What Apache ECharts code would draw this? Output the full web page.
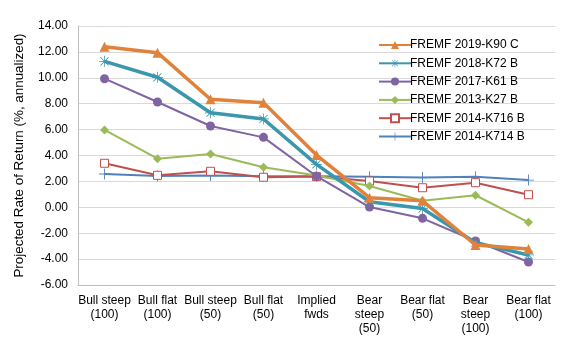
<!DOCTYPE html>
<html>
<head>
<meta charset="utf-8">
<script src="https://cdn.jsdelivr.net/npm/echarts@6/dist/echarts.min.js"></script>
<style>
  html, body { margin: 0; padding: 0; background: #fff; }
  #chart { width: 563px; height: 354px; }
</style>
</head>
<body>
<div id="chart"></div>
<script>
const categories = ['Bull steep\n(100)', 'Bull flat\n(100)', 'Bull steep\n(50)', 'Bull flat\n(50)', 'Implied\nfwds', 'Bear\nsteep\n(50)', 'Bear flat\n(50)', 'Bear\nsteep\n(100)', 'Bear flat\n(100)']
const k90 = [12.40, 11.94, 8.34, 8.08, 4.03, 0.74, 0.50, -2.91, -3.22]
const k72 = [11.27, 10.04, 7.30, 6.82, 3.32, 0.43, -0.10, -2.73, -3.68]
const k61 = [9.93, 8.13, 6.28, 5.40, 2.40, 0.02, -0.85, -2.60, -4.22]
const k27 = [5.97, 3.75, 4.12, 3.09, 2.45, 1.64, 0.51, 0.93, -1.16]
const k716 = [3.40, 2.47, 2.78, 2.32, 2.37, 2.03, 1.51, 1.90, 0.97]
const k714 = [2.57, 2.42, 2.45, 2.40, 2.40, 2.36, 2.30, 2.35, 2.10]

const starPath = 'path://M9.3,0H10.7V8.3L16.9,2.1L17.9,3.1L11.7,9.3H20V10.7H11.7L17.9,16.9L16.9,17.9L10.7,11.7V20H9.3V11.7L3.1,17.9L2.1,16.9L8.3,10.7H0V9.3H8.3L2.1,3.1L3.1,2.1L9.3,8.3Z'
const plusPath = 'path://M9.2,0H10.8V9.2H20V10.8H10.8V20H9.2V10.8H0V9.2H9.2Z'

const chart = echarts.init(document.getElementById('chart'))

function line(name, data, color, width, symbol, size, extra) {
  return Object.assign({
    name, type: 'line', data,
    symbol, symbolSize: size,
    lineStyle: { color, width },
    itemStyle: { color, borderWidth: 0 },
    emphasis: { disabled: true },
    animation: false
  }, extra || {})
}

chart.setOption({
  textStyle: { fontFamily: 'Liberation Sans, Arial, sans-serif' },
  grid: { left: 78, right: 8, top: 26, bottom: 69 },
  legend: {
    orient: 'vertical',
    left: 373, top: 34,
    itemWidth: 32, itemHeight: 10, itemGap: 6.3,
    textStyle: { fontSize: 12, color: '#000', padding: [0, 0, 0, -6] },
    data: ['FREMF 2019-K90 C', 'FREMF 2018-K72 B', 'FREMF 2017-K61 B', 'FREMF 2013-K27 B', 'FREMF 2014-K716 B', 'FREMF 2014-K714 B']
  },
  xAxis: {
    type: 'category',
    data: categories,
    boundaryGap: true,
    axisLine: { onZero: false, lineStyle: { color: '#BFBFBF' } },
    axisTick: { show: false },
    axisLabel: { color: '#000', fontSize: 12, lineHeight: 14, margin: 9, interval: 0 }
  },
  yAxis: {
    type: 'value',
    min: -6, max: 14, interval: 2,
    name: 'Projected Rate of Return (%, annualized)',
    nameLocation: 'middle', nameGap: 52,
    nameTextStyle: { fontSize: 13.4, color: '#000' },
    axisLine: { show: true, lineStyle: { color: '#BFBFBF' } },
    axisTick: { show: false },
    axisLabel: { color: '#000', fontSize: 12, margin: 10, formatter: v => v.toFixed(2) },
    splitLine: { lineStyle: { color: '#D9D9D9' } }
  },
  series: [
    line('FREMF 2014-K714 B', k714, '#4F81BD', 2, plusPath, 11, { z: 1 }),
    line('FREMF 2014-K716 B', k716, '#C0504D', 2, 'rect', 8, { z: 2, itemStyle: { color: '#fff', borderColor: '#C0504D', borderWidth: 1 } }),
    line('FREMF 2013-K27 B', k27, '#9BBB59', 2, 'diamond', 9, { z: 3 }),
    line('FREMF 2017-K61 B', k61, '#8064A2', 2, 'circle', 9, { z: 4 }),
    line('FREMF 2018-K72 B', k72, '#3A97AD', 3.5, starPath, 11, { z: 5 }),
    line('FREMF 2019-K90 C', k90, '#E0823A', 3.5, 'triangle', 10, { z: 6 })
  ]
})
</script>
</body>
</html>
